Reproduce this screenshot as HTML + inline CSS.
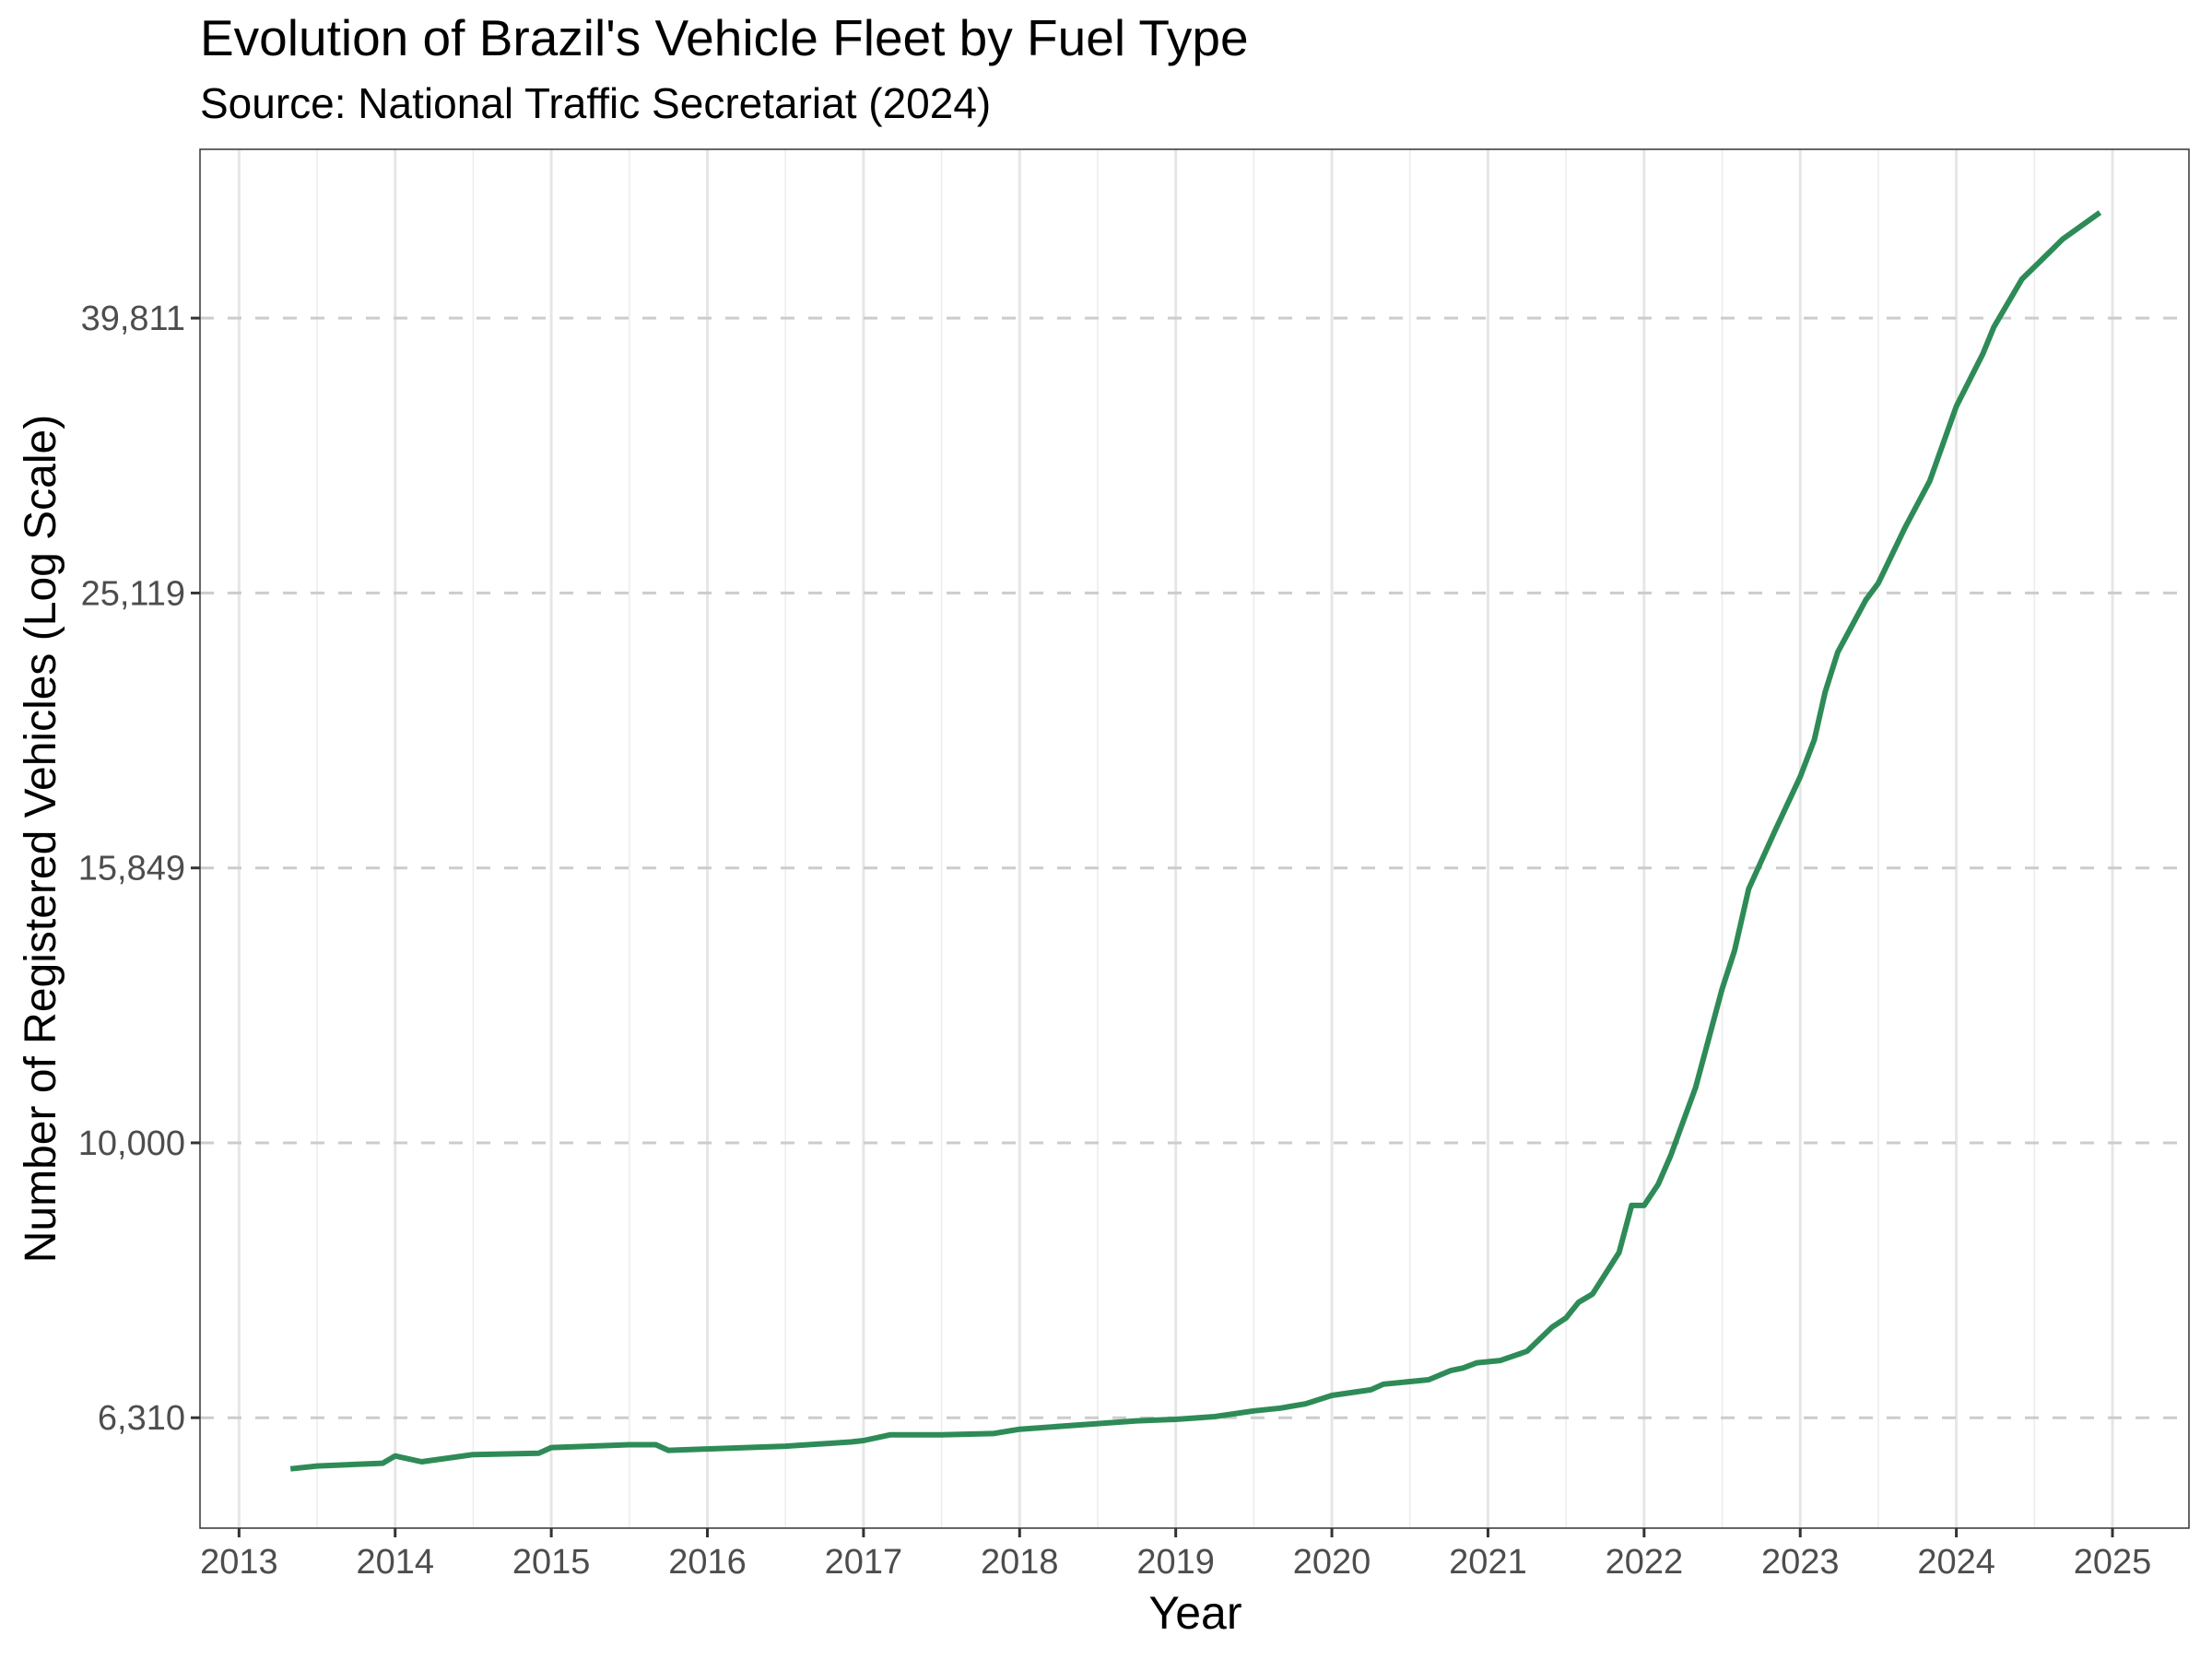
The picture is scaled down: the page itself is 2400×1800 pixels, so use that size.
<!DOCTYPE html>
<html><head><meta charset="utf-8"><style>
html,body{margin:0;padding:0;background:#fff}
svg{display:block;font-family:"Liberation Sans",Arial,sans-serif}
</style></head><body>
<svg id="chart" width="2400" height="1800" viewBox="0 0 2400 1800">
<rect width="2400" height="1800" fill="#fff"/>
<text x="217" y="60" font-size="55" fill="#000">Evolution of Brazil's Vehicle Fleet by Fuel Type</text>
<text x="217" y="128" font-size="46" fill="#000">Source: National Traffic Secretariat (2024)</text>
<g id="grid"></g>
<g id="series"></g>
<rect x="217" y="162" width="2158" height="1496" fill="none" stroke="#333" stroke-width="1.5"/>
<g id="axes"></g>
<text x="1297" y="1767" font-size="50" text-anchor="middle" fill="#000">Year</text>
<text transform="translate(60,910) rotate(-90)" font-size="48" text-anchor="middle" fill="#000">Number of Registered Vehicles (Log Scale)</text>
</svg>
<script>
const dates = [2013.33,2013.5,2013.92,2014.0,2014.17,2014.5,2014.92,2015.0,2015.5,2015.67,2015.75,2016.0,2016.5,2016.92,2017.0,2017.17,2017.5,2017.83,2018.0,2018.5,2018.75,2019.0,2019.25,2019.5,2019.67,2019.83,2020.0,2020.25,2020.33,2020.62,2020.76,2020.84,2020.93,2021.08,2021.25,2021.41,2021.5,2021.58,2021.67,2021.84,2021.92,2022.0,2022.09,2022.17,2022.33,2022.5,2022.58,2022.67,2022.84,2023.0,2023.09,2023.16,2023.24,2023.42,2023.5,2023.67,2023.83,2024.0,2024.17,2024.24,2024.42,2024.56,2024.68,2024.92];
const vehicles = [5792,5820,5847,5918,5861,5932,5946,6002,6031,6031,5974,5988,6016,6059,6073,6131,6131,6145,6189,6248,6277,6292,6322,6382,6412,6458,6550,6612,6675,6724,6828,6858,6918,6945,7053,7343,7457,7656,7763,8323,9004,9004,9328,9786,10970,12943,13810,15300,16880,18463,19644,21282,22746,24829,25535,28007,30305,34340,37497,39217,42500,44040,45430,47510];
const xTicks = [2013,2014,2015,2016,2017,2018,2019,2020,2021,2022,2023,2024,2025];
const yTicks = [6310,10000,15849,25119,39811];
const yTickLabels = ["6,310","10,000","15,849","25,119","39,811"];

const L=217,R=2375,T=162,B=1658;
const X0=2012.75,X1=2025.49, Y0=3.7197, Y1=4.7228;
function sx(v){return L+(v-X0)/(X1-X0)*(R-L);}
function sy(v){return B-(Math.log10(v)-Y0)/(Y1-Y0)*(B-T);}
const NS='http://www.w3.org/2000/svg';
function mk(tag,attrs,parent){const e=document.createElementNS(NS,tag);for(const k in attrs)e.setAttribute(k,attrs[k]);parent.appendChild(e);return e;}
const grid=document.getElementById('grid'),axes=document.getElementById('axes'),series=document.getElementById('series');
for(let i=0;i<xTicks.length;i++){
  const m=xTicks[i]-0.5; if(m>X0){
    const ln=mk('line',{x1:sx(m),x2:sx(m),y1:T,y2:B,stroke:'#ececec','stroke-width':1.5},grid);
    
    
  }
}
xTicks.forEach(t=>{
  const x=sx(t);
  const g=mk('line',{x1:x,x2:x,y1:T,y2:B,stroke:'#e6e6e6','stroke-width':3},grid);
  
  
  const tk=mk('line',{x1:x,x2:x,y1:B,y2:B+10,stroke:'#333','stroke-width':3},axes);
  
  
  const tx=mk('text',{x:x,y:B+49,'font-size':38,'text-anchor':'middle',fill:'#4d4d4d'},axes);
  tx.textContent=t;
  
  
});
yTicks.forEach((t,i)=>{
  const y=sy(t);
  const g=mk('line',{x1:L,x2:R,y1:y,y2:y,stroke:'#cccccc','stroke-width':3,'stroke-dasharray':'15 15'},grid);
  
  
  const tk=mk('line',{x1:L-10,x2:L,y1:y,y2:y,stroke:'#333','stroke-width':3},axes);
  
  
  const tx=mk('text',{x:L-16,y:y+13,'font-size':38,'text-anchor':'end',fill:'#4d4d4d'},axes);
  tx.textContent=yTickLabels[i];
  
  
});
const pts=dates.map((d,i)=>sx(d).toFixed(1)+','+sy(vehicles[i]).toFixed(1)).join(' ');
const pl=mk('polyline',{points:pts,fill:'none',stroke:'#2e8b57','stroke-width':6,'stroke-linejoin':'round'},series);


</script>
</body></html>
